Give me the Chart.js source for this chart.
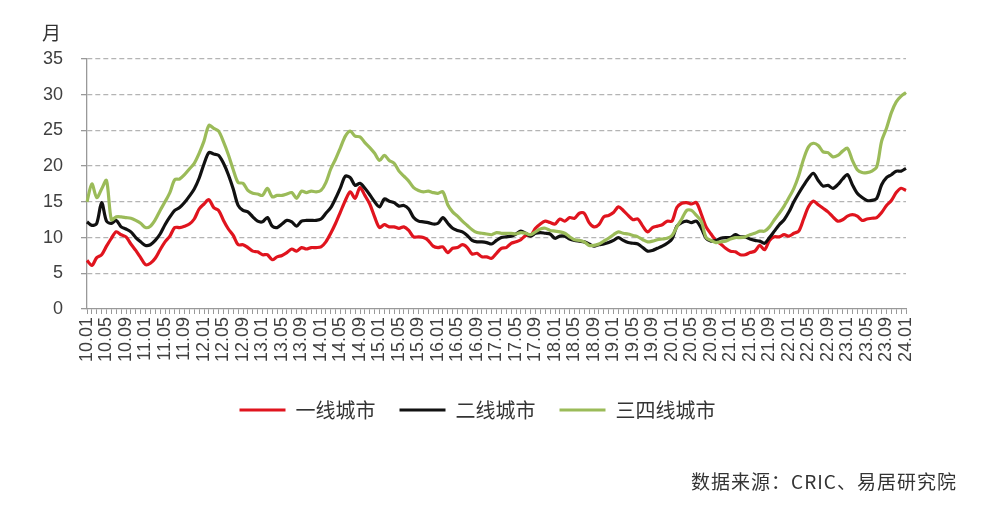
<!DOCTYPE html>
<html>
<head>
<meta charset="utf-8">
<script src="https://cdn.jsdelivr.net/npm/chart.js@4.4.0/dist/chart.umd.min.js"></script>
<style>
  html, body { margin: 0; padding: 0; background: #fff; }
  #wrap { position: relative; width: 1000px; height: 509px; }
  #unit { position: absolute; left: 42px; top: 22px; font: 19px "Noto Sans CJK SC"; line-height: 1; color: #333; }
  #src { position: absolute; right: 43px; top: 470px; font: 19px "Noto Sans CJK SC"; line-height: 1.2; color: #333; letter-spacing: 1px; }
</style>
</head>
<body>
<div id="wrap">
  <canvas id="myChart"></canvas>
  <div id="unit">月</div>
  <div id="src">数据来源：CRIC、易居研究院</div>
</div>
<script>
// months 10.01 .. 24.01
var months = [];
for (var y = 10; y <= 24; y++) {
  for (var m = 1; m <= 12; m++) {
    if (y === 24 && m > 1) break;
    months.push(y + '.' + (m < 10 ? '0' + m : m));
  }
}

var seriesNames = ['一线城市', '二线城市', '三四线城市'];

var tier1 = [
  6.8, 6.1, 7.2, 7.6, 8.8, 9.9, 10.8, 10.4, 10.1, 9.1,
  8.2, 7.2, 6.2, 6.4, 7.1, 8.3, 9.4, 10.2, 11.4, 11.4,
  11.6, 11.9, 12.6, 14.0, 14.7, 15.3, 14.2, 13.8, 12.4, 11.2,
  10.3, 9.0, 9.0, 8.6, 8.1, 8.0, 7.6, 7.6, 6.9, 7.3,
  7.5, 7.9, 8.4, 8.1, 8.6, 8.4, 8.6, 8.6, 8.7, 9.4,
  10.6, 12.0, 13.6, 15.2, 16.4, 15.5, 17.0, 15.9, 14.7, 12.9,
  11.4, 11.8, 11.5, 11.5, 11.3, 11.5, 11.0, 10.1, 10.1, 10.0,
  9.6, 8.8, 8.6, 8.7, 7.9, 8.5, 8.6, 9.0, 8.6, 7.7,
  7.8, 7.3, 7.3, 7.1, 7.8, 8.5, 8.6, 9.2, 9.4, 9.7,
  10.3, 10.3, 11.3, 11.9, 12.3, 12.1, 11.9, 12.6, 12.3, 12.8,
  12.7, 13.4, 13.4, 12.1, 11.5, 11.8, 12.9, 13.1, 13.5, 14.3,
  13.8, 13.1, 12.5, 12.6, 11.6, 10.8, 11.4, 11.6, 11.8, 12.3,
  12.3, 14.2, 14.8, 14.9, 14.7, 14.9, 13.3, 11.5, 10.5, 9.6,
  9.1, 8.5, 8.1, 8.0, 7.6, 7.6, 7.9, 8.1, 8.9, 8.3,
  9.6, 10.1, 10.1, 10.4, 10.2, 10.6, 10.9, 12.6, 14.3, 15.1,
  14.6, 14.1, 13.6, 12.9, 12.3, 12.5, 13.0, 13.2, 13.0, 12.4,
  12.6, 12.7, 12.8, 13.5, 14.5, 15.2, 16.3, 16.9, 16.6
];

var tier2 = [
  12.2, 11.7, 12.0, 14.9, 12.3, 12.0, 12.4, 11.5, 11.2, 10.8,
  10.0, 9.4, 8.9, 9.0, 9.6, 10.5, 11.8, 12.9, 13.8, 14.2,
  14.9, 15.8, 16.8, 18.3, 20.3, 21.9, 21.7, 21.5, 20.4, 18.8,
  16.8, 14.5, 13.8, 13.6, 12.9, 12.3, 12.2, 12.8, 11.6, 11.4,
  11.9, 12.4, 12.2, 11.6, 12.3, 12.4, 12.4, 12.4, 12.6, 13.4,
  14.2, 15.5, 17.0, 18.6, 18.4, 17.3, 17.6, 16.9, 16.0, 15.0,
  14.3, 15.4, 15.1, 14.9, 14.4, 14.5, 14.0, 12.8, 12.3, 12.2,
  12.1, 11.9, 12.0, 12.8, 12.0, 11.3, 11.0, 10.8, 10.3, 9.6,
  9.4, 9.4, 9.3, 9.1, 9.6, 10.0, 10.1, 10.2, 10.5, 10.9,
  10.6, 10.2, 10.6, 10.7, 10.6, 10.5, 9.9, 10.2, 10.2, 9.8,
  9.6, 9.5, 9.4, 9.1, 8.8, 9.0, 9.1, 9.3, 9.6, 10.0,
  9.6, 9.3, 9.2, 9.1, 8.6, 8.1, 8.2, 8.5, 8.8, 9.2,
  9.8, 11.6, 12.1, 12.3, 12.1, 12.3, 11.3, 9.9, 9.5, 9.6,
  9.9, 10.0, 10.0, 10.4, 10.1, 10.1, 9.8, 9.6, 9.5, 9.2,
  10.0, 10.9, 11.8, 12.5, 13.6, 15.0, 16.2, 17.3, 18.3, 19.0,
  18.0, 17.2, 17.3, 16.9, 17.4, 18.2, 18.8, 17.4, 16.2, 15.6,
  15.2, 15.2, 15.5, 17.4, 18.4, 18.8, 19.3, 19.3, 19.7
];

var tier34 = [
  15.0, 17.5, 15.6, 16.8, 18.0, 12.5, 12.9, 12.9, 12.8, 12.7,
  12.4, 12.0, 11.4, 11.6, 12.5, 13.8, 15.0, 16.3, 18.1, 18.2,
  18.8, 19.6, 20.4, 21.8, 23.5, 25.7, 25.3, 24.9, 23.4, 21.6,
  19.5, 17.7, 17.6, 16.6, 16.2, 16.1, 15.9, 16.9, 15.7, 15.9,
  15.9, 16.1, 16.3, 15.5, 16.5, 16.3, 16.5, 16.4, 16.6, 17.7,
  19.6, 21.0, 22.6, 24.2, 24.9, 24.2, 24.1, 23.3, 22.6, 21.8,
  20.8, 21.5, 20.8, 20.4, 19.3, 18.6, 17.9, 17.0, 16.6, 16.4,
  16.5, 16.3, 16.2, 16.4, 14.6, 13.6, 13.0, 12.3, 11.7, 11.1,
  10.7, 10.6, 10.5, 10.4, 10.7, 10.6, 10.6, 10.6, 10.5, 10.7,
  10.6, 10.4, 10.8, 11.2, 11.3, 11.0, 10.9, 10.8, 10.6, 10.1,
  9.7, 9.6, 9.4, 8.9, 8.9, 9.1, 9.5, 9.9, 10.4, 10.8,
  10.6, 10.5, 10.3, 10.1, 9.7, 9.4, 9.5, 9.7, 9.8, 9.9,
  10.3, 11.5, 12.6, 13.8, 13.8, 13.1, 12.3, 10.0, 9.6, 9.3,
  9.4, 9.5, 9.8, 10.0, 10.0, 10.1, 10.4, 10.6, 10.9, 10.9,
  11.5, 12.5, 13.4, 14.4, 15.6, 16.9, 18.7, 21.0, 22.7, 23.2,
  22.9, 22.0, 21.9, 21.3, 21.5, 22.1, 22.5, 20.8, 19.5, 19.1,
  19.1, 19.3, 19.9, 23.5, 25.3, 27.5, 29.0, 29.8, 30.3
];

var yTicks = [0, 5, 10, 15, 20, 25, 30, 35];

var tickFont = { family: 'Liberation Sans', size: 18 };

function line(label, data, color) {
  return {
    label: label,
    data: data,
    borderColor: color,
    backgroundColor: color,
    borderWidth: 3.2,
    pointRadius: 0,
    tension: 0.3,
    borderJoinStyle: 'round',
    fill: false
  };
}

// nudge the legend a little to the right, like the original
var legendShift = {
  id: 'legendShift',
  afterLayout: function (chart) {
    if (chart.legend) chart.legend.left += 25;
  }
};

const config = {
  type: 'line',
  data: {
    labels: months,
    datasets: [
      line(seriesNames[2], tier34, '#9bbb59'),
      line(seriesNames[1], tier2, '#111111'),
      line(seriesNames[0], tier1, '#e0141e')
    ]
  },
  options: {
    responsive: true,
    maintainAspectRatio: false,
    animation: false,
    layout: { padding: { left: 24, right: 94, top: 59, bottom: 79 } },
    plugins: {
      tooltip: { enabled: false },
      legend: {
        position: 'bottom',
        reverse: true,
        labels: {
          usePointStyle: true,
          pointStyle: 'line',
          pointStyleWidth: 46,
          padding: 24,
          color: '#333',
          font: { family: 'Noto Sans CJK SC', size: 20 }
        }
      }
    },
    scales: {
      x: {
        ticks: {
          autoSkip: false,
          maxRotation: 90,
          minRotation: 90,
          padding: 3,
          color: '#404040',
          font: tickFont,
          callback: function (v, i) { return i % 4 === 0 ? months[i] : ''; }
        },
        grid: { display: true, drawOnChartArea: false, drawTicks: true, tickLength: 5, color: '#999', tickColor: '#999' },
        border: { color: '#999', width: 1.3 },
        afterFit: function (s) { s.height = 67; }
      },
      y: {
        min: 0,
        max: 35,
        afterBuildTicks: function (s) { s.ticks = yTicks.map(function (v) { return { value: v }; }); },
        ticks: { padding: 18, color: '#404040', font: tickFont },
        grid: {
          color: function (ctx) { return ctx.tick && ctx.tick.value === 0 ? 'rgba(0,0,0,0)' : '#b4b4b4'; },
          lineWidth: 1.3,
          drawTicks: true,
          tickLength: 6,
          tickColor: '#999'
        },
        border: { display: true, color: '#999', width: 1.3, dash: [5, 3] },
        afterFit: function (s) { s.width = 63; }
      }
    }
  },
  plugins: [legendShift]
};

var myChart = new Chart(document.getElementById('myChart'), config);
</script>
</body>
</html>
